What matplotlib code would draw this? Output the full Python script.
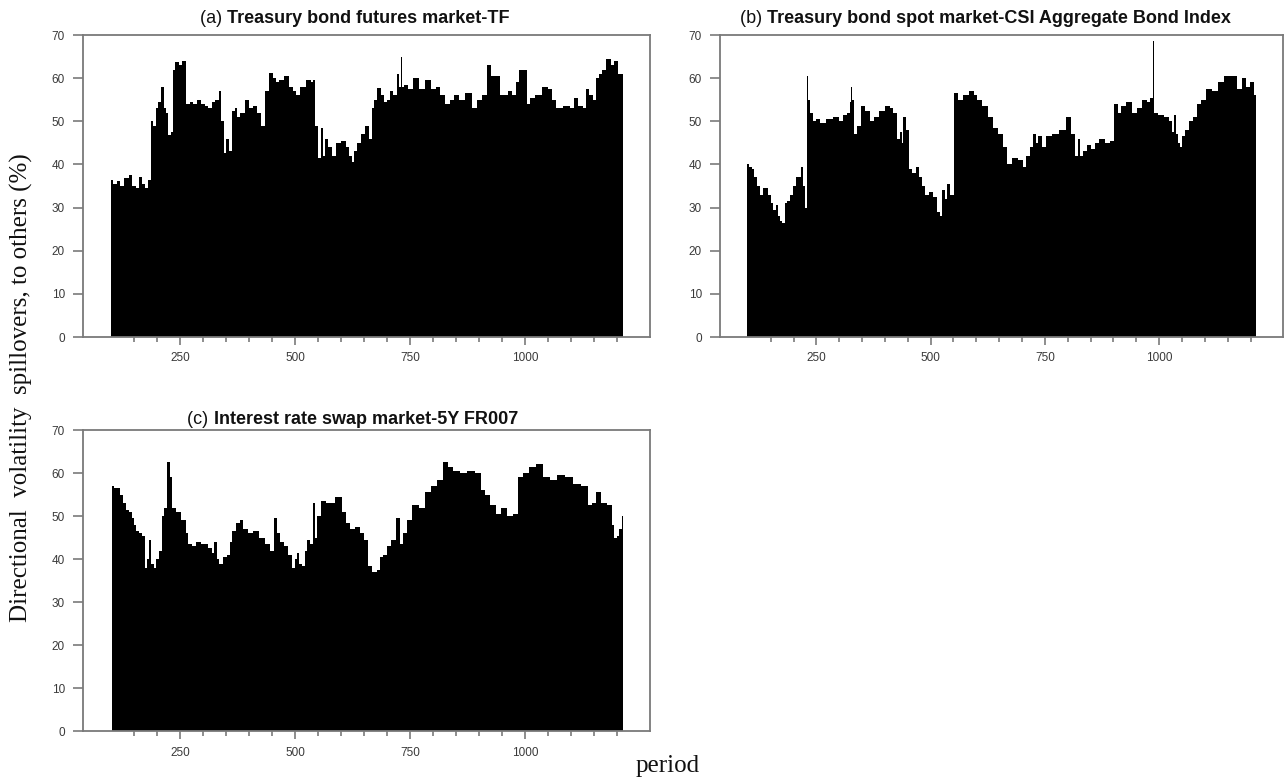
import numpy as np
import matplotlib
matplotlib.use('Agg')
import matplotlib.pyplot as plt
from matplotlib.ticker import MultipleLocator, FixedLocator

# directional volatility spillovers "to others" (%), by rolling-window period
period_tf = [101, 108, 116, 124, 134, 142, 150, 157, 164, 170, 177, 183, 189, 195,
             200, 206, 213, 216, 221, 228, 233, 236, 244, 252, 258, 268, 275, 283,
             292, 300, 308, 315, 322, 332, 339, 341, 348, 352, 359, 366, 372, 377,
             385, 396, 405, 413, 421, 430, 437, 450, 456, 460, 470, 483, 492, 500,
             505, 518, 531, 536, 540, 545, 554, 559, 563, 567, 575, 585, 594, 607,
             614, 620, 626, 632, 638, 647, 657, 663, 669, 675, 682, 690, 696, 703,
             709, 718, 724, 728, 731, 735, 740, 750, 764, 775, 789, 800, 811, 820,
             833, 842, 850, 862, 877, 890, 899, 912, 921, 930, 943, 948, 958, 966,
             975, 983, 988, 1001, 1005, 1014, 1028, 1046, 1055, 1063, 1071, 1093,
             1102, 1111, 1120, 1130, 1134, 1143, 1152, 1156, 1163, 1169, 1183, 1190,
             1196, 1205, 1213]
to_others_tf = [36.5, 35.5, 36.2, 35.0, 36.8, 37.5, 35.0, 34.5, 37.0, 35.5, 34.5, 36.5,
                50.0, 49.0, 53.0, 54.5, 58.0, 53.0, 52.0, 46.8, 47.5, 62.0, 63.7, 63.0,
                64.0, 54.0, 54.5, 54.0, 55.0, 54.0, 53.5, 53.0, 54.5, 55.0, 57.0, 50.0,
                42.6, 46.0, 43.0, 52.5, 53.0, 51.0, 52.0, 55.0, 53.0, 53.5, 52.0, 48.8,
                57.0, 61.3, 60.0, 59.0, 59.5, 60.5, 58.0, 57.0, 56.0, 58.0, 59.5, 59.0,
                59.5, 49.0, 41.5, 48.4, 42.0, 46.0, 44.0, 42.0, 45.0, 45.5, 44.0, 42.0,
                40.5, 43.0, 45.0, 47.0, 49.0, 46.0, 53.0, 55.0, 57.6, 56.0, 54.5, 55.0,
                57.0, 56.0, 61.0, 58.0, 64.8, 58.0, 58.5, 57.5, 60.0, 57.5, 59.5, 57.5,
                58.0, 56.0, 54.0, 55.0, 56.0, 55.0, 56.5, 53.0, 55.0, 56.0, 63.0, 60.5,
                60.5, 56.0, 56.0, 57.0, 56.0, 59.0, 62.0, 62.0, 54.0, 55.5, 56.0, 58.0,
                57.5, 55.0, 53.0, 53.5, 53.0, 55.5, 53.5, 53.0, 57.5, 56.0, 55.0, 60.0,
                61.0, 62.0, 64.5, 63.0, 64.0, 61.0, 61.0]

period_csi = [99, 106, 111, 117, 124, 131, 136, 143, 147, 153, 159, 163, 169, 173,
              178, 183, 189, 196, 203, 210, 214, 219, 223, 228, 230, 231, 234, 239,
              246, 254, 263, 277, 295, 304, 313, 322, 326, 327, 330, 335, 344, 353,
              362, 371, 380, 394, 407, 414, 421, 430, 435, 438, 442, 452, 454, 465,
              470, 478, 485, 492, 501, 510, 519, 522, 528, 533, 539, 546, 555, 564,
              578, 591, 598, 605, 618, 632, 640, 654, 662, 672, 685, 698, 705, 712,
              721, 727, 733, 739, 748, 757, 775, 789, 802, 811, 820, 824, 831, 838,
              847, 856, 865, 874, 887, 896, 908, 913, 919, 937, 946, 955, 968, 977,
              984, 988, 990, 1004, 1017, 1026, 1031, 1033, 1039, 1044, 1048, 1053,
              1061, 1070, 1079, 1087, 1096, 1110, 1123, 1134, 1148, 1166, 1175, 1186,
              1193, 1204, 1213]
to_others_csi = [40.0, 39.5, 39.0, 37.0, 35.0, 33.0, 34.5, 34.5, 33.0, 31.0, 29.5, 30.5,
                 28.0, 27.0, 26.5, 31.0, 31.5, 33.0, 35.0, 37.0, 37.0, 39.5, 35.0, 30.0,
                 29.0, 60.5, 55.0, 52.0, 50.0, 50.5, 49.5, 50.5, 51.0, 50.0, 51.5, 52.0,
                 54.5, 58.0, 55.0, 47.0, 49.0, 53.5, 52.5, 50.0, 51.0, 52.5, 53.5, 53.0,
                 52.0, 46.0, 47.5, 45.0, 51.0, 48.0, 39.0, 38.0, 39.5, 37.0, 35.0, 33.0,
                 33.5, 32.5, 29.0, 28.0, 34.0, 32.0, 35.5, 33.0, 56.5, 55.0, 56.0, 57.0,
                 56.0, 55.0, 53.5, 51.0, 48.5, 47.0, 44.0, 40.0, 41.5, 41.0, 39.5, 42.0,
                 44.0, 47.0, 45.0, 46.5, 44.0, 46.5, 47.0, 48.0, 51.0, 47.0, 42.0, 46.0,
                 42.0, 43.0, 44.5, 43.5, 45.0, 46.0, 45.0, 45.5, 54.0, 52.0, 53.5, 54.5,
                 52.0, 53.0, 55.0, 54.5, 55.5, 68.5, 52.0, 51.5, 51.0, 50.0, 47.5, 51.5,
                 47.0, 45.0, 44.0, 46.5, 48.0, 50.0, 51.0, 54.0, 55.0, 57.5, 57.0, 59.0,
                 60.5, 60.5, 57.5, 60.0, 58.0, 59.0, 56.0]

period_irs = [103, 112, 117, 123, 130, 136, 143, 149, 152, 158, 165, 170, 176, 181,
              185, 190, 195, 201, 207, 214, 218, 225, 230, 237, 246, 259, 266, 270,
              281, 290, 303, 317, 321, 328, 332, 339, 348, 355, 361, 366, 376, 383,
              392, 403, 415, 428, 441, 450, 457, 464, 472, 481, 490, 497, 501, 506,
              512, 517, 524, 528, 535, 542, 545, 552, 561, 575, 597, 606, 615, 624,
              637, 646, 655, 662, 673, 681, 688, 695, 704, 713, 726, 730, 739, 748,
              762, 775, 788, 802, 815, 828, 837, 851, 864, 882, 899, 908, 917, 931,
              940, 953, 966, 980, 988, 1002, 1015, 1033, 1046, 1060, 1077, 1095,
              1113, 1131, 1140, 1149, 1157, 1171, 1184, 1191, 1195, 1202, 1206, 1213]
to_others_irs = [57.0, 56.5, 56.5, 55.0, 53.0, 51.5, 51.0, 49.5, 48.0, 46.5, 46.0, 45.5,
                 38.0, 40.0, 44.5, 39.0, 38.0, 40.0, 42.0, 50.0, 52.0, 62.5, 59.0, 52.0,
                 51.0, 49.0, 46.0, 43.5, 43.0, 44.0, 43.5, 42.5, 41.5, 44.0, 40.0, 39.0,
                 40.5, 41.0, 44.0, 46.5, 48.5, 49.0, 47.0, 46.0, 46.5, 45.0, 43.5, 42.0,
                 49.5, 46.0, 44.0, 43.0, 41.0, 38.0, 40.0, 41.5, 39.0, 38.5, 42.0, 44.5,
                 43.5, 53.0, 45.0, 50.0, 53.5, 53.0, 54.5, 51.0, 48.5, 47.0, 47.5, 46.0,
                 44.5, 38.5, 37.0, 37.5, 40.5, 41.0, 43.0, 44.5, 49.5, 43.5, 46.0, 49.0,
                 52.5, 52.0, 55.5, 57.0, 58.5, 62.5, 61.5, 60.5, 60.0, 60.5, 60.0, 56.0,
                 55.0, 52.5, 50.5, 52.0, 50.0, 50.5, 59.0, 60.0, 61.5, 62.0, 59.0, 58.5,
                 59.5, 59.0, 57.5, 57.0, 52.5, 53.0, 55.5, 53.0, 52.5, 48.0, 45.0, 45.5,
                 47.0, 50.0]

titles = [('(a) ', 'Treasury bond futures market-TF'),
          ('(b) ', 'Treasury bond spot market-CSI Aggregate Bond Index'),
          ('(c) ', 'Interest rate swap market-5Y FR007')]

SANS = ['Liberation Sans', 'DejaVu Sans']
SERIF = ['Liberation Serif', 'DejaVu Serif']
EDGE = '#7a7a7a'


def panel(fig, rect, x, y, head, title_xy):
    ax = fig.add_axes(rect)
    ax.fill_between(x, y, 0, step='mid', color='black', linewidth=0)
    ax.set_xlim(39, 1271)
    ax.set_ylim(0, 70)
    ax.yaxis.set_major_locator(MultipleLocator(10))
    ax.xaxis.set_major_locator(FixedLocator([250, 500, 750, 1000]))
    ax.xaxis.set_minor_locator(FixedLocator([v for v in range(150, 1201, 50)
                                             if v % 250]))
    for s in ax.spines.values():
        s.set_color(EDGE)
        s.set_linewidth(1.3)
    ax.tick_params(which='both', direction='out', color=EDGE, width=1.2,
                   labelcolor='#3a3a3a', labelsize=8.5)
    ax.tick_params(axis='y', length=7, pad=6)
    ax.tick_params(axis='x', which='major', length=6, pad=5)
    ax.tick_params(axis='x', which='minor', length=3.5)
    for lab in ax.get_xticklabels() + ax.get_yticklabels():
        lab.set_family(SANS)
    t0 = fig.text(title_xy[0], title_xy[1], head[0], family=SANS, fontsize=13,
                  color='#111111', va='baseline')
    ax.annotate(head[1], xy=(1, 0), xycoords=t0, va='bottom', ha='left',
                family=SANS, fontsize=13, fontweight='bold', color='#111111')
    return ax


fig = plt.figure(figsize=(12.84, 7.83), dpi=100)

panel(fig, [0.0646, 0.5696, 0.4416, 0.3857], period_tf, to_others_tf,
      titles[0], (0.156, 0.970))
panel(fig, [0.5607, 0.5696, 0.4385, 0.3857], period_csi, to_others_csi,
      titles[1], (0.576, 0.970))
panel(fig, [0.0646, 0.0658, 0.4416, 0.3850], period_irs, to_others_irs,
      titles[2], (0.146, 0.459))

fig.text(0.017, 0.505, 'Directional  volatility  spillovers, to others (%)',
         family=SERIF, fontsize=18, rotation=90, ha='center', va='center',
         color='#111111')
fig.text(0.520, 0.022, 'period', family=SERIF, fontsize=18, ha='center',
         va='center', color='#111111')

fig.savefig('out.png', dpi=100)
plt.close(fig)
